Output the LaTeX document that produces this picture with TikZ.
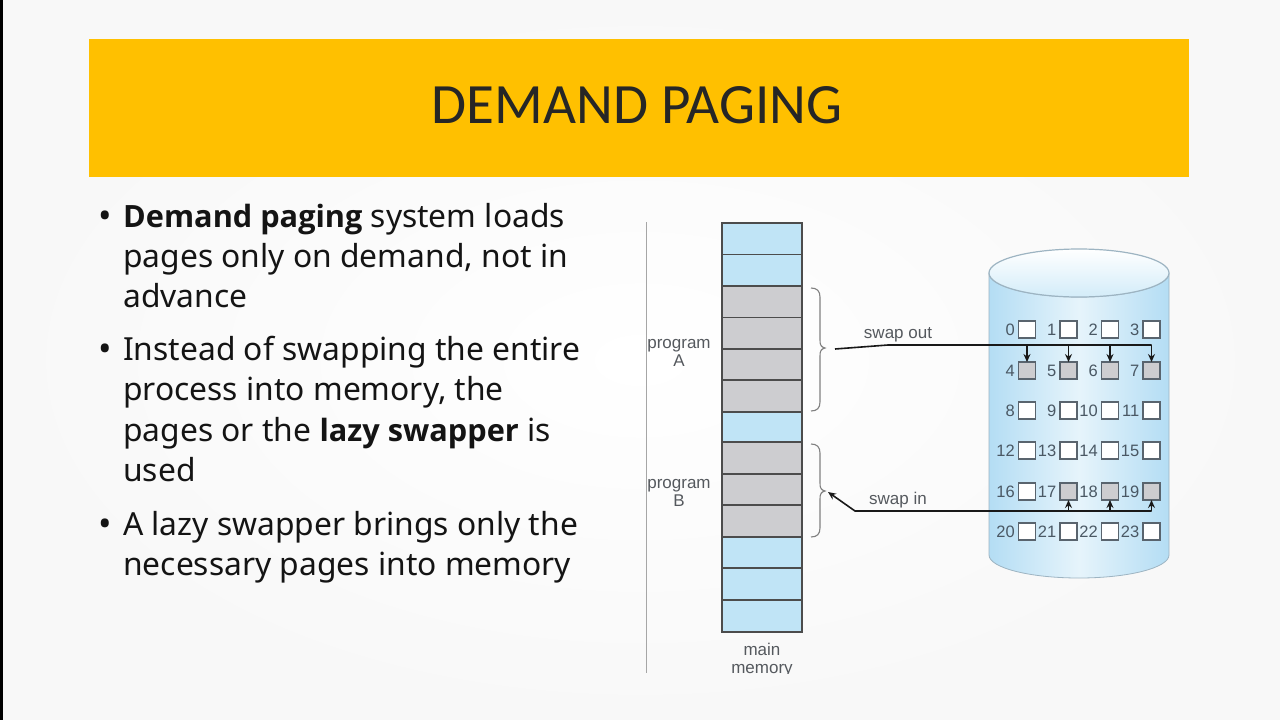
\documentclass[tikz,border=0pt]{standalone}
\usepackage{fontspec}
\setmainfont{Noto Sans}
\newfontfamily\boldbody{Open Sans}
\newfontfamily\titlefont{Carlito}
\newfontfamily\figfont{Liberation Sans}
\usetikzlibrary{arrows.meta,calc}
\definecolor{banner}{HTML}{FFC000}
\definecolor{memblue}{HTML}{C0E4F6}
\definecolor{memgray}{HTML}{CDCDD0}
\definecolor{figtext}{HTML}{55595E}
\definecolor{numtext}{HTML}{4A5864}
\definecolor{slotline}{HTML}{59646E}
\definecolor{cylline}{HTML}{9DB4C2}
\definecolor{cyledge}{HTML}{B4DDF4}
\definecolor{cylmid}{HTML}{E6F4FB}
\definecolor{pagebg}{HTML}{F8F8F8}
\newcommand{\boldrun}[1]{{\boldbody\fontsize{30.7}{30.7}\selectfont\bfseries #1}}
\tikzset{
  bodyline/.style={anchor=base west,inner sep=0pt,font=\fontsize{31.8}{31.8}\selectfont,text=black!92},
  bulletmark/.style={anchor=base,inner sep=0pt,font=\fontsize{36}{36}\selectfont,text=black!92},
  figlabel/.style={inner sep=0pt,align=center,text=figtext,font=\figfont\fontsize{17}{18}\selectfont},
  memcell/.style={draw=black!70,line width=1.2pt},
  slot/.style={draw=slotline,line width=1.2pt,fill=white,minimum size=17pt,inner sep=0pt,outer sep=0pt},
  slotgray/.style={slot,fill=memgray},
  slotnum/.style={anchor=base east,inner sep=0pt,text=numtext,font=\figfont\fontsize{16.5}{17}\selectfont},
  wire/.style={draw=black!90,line width=1.6pt},
  wiretip/.style={wire,-{Stealth[length=8pt,width=7pt]}},
  bracket/.style={draw=black!50,line width=1.1pt}
}
\begin{document}
\begin{tikzpicture}[x=1pt,y=-1pt]
\useasboundingbox (0,0) rectangle (1280,720);
\shade[inner color=white,outer color=pagebg] (0,0) rectangle (1280,720);
\fill[black] (0,0) rectangle (2.5,720);
% banner
\fill[banner] (89,39) rectangle (1189,177);
\node[inner sep=0pt,font=\titlefont\fontsize{57}{57}\selectfont,text=black!85] (title) at (637,105) {DEMAND PAGING};
% bullets
\node[bulletmark] (b1) at (105,228) {•};
\node[bodyline] (l1) at (123,227) {\boldrun{Demand paging} system loads};
\node[bodyline] (l2) at (123,267) {pages only on demand, not in};
\node[bodyline] (l3) at (123,307) {advance};
\node[bulletmark] (b2) at (105,361) {•};
\node[bodyline] (l4) at (123,360) {Instead of swapping the entire};
\node[bodyline] (l5) at (123,400) {process into memory, the};
\node[bodyline] (l6) at (123,441) {pages or the \boldrun{lazy swapper} is};
\node[bodyline] (l7) at (123,481) {used};
\node[bulletmark] (b3) at (105,536) {•};
\node[bodyline] (l8) at (123,535) {A lazy swapper brings only the};
\node[bodyline] (l9) at (123,575) {necessary pages into memory};
% axis line
\draw[black!35,line width=1.6pt] (646.5,222) -- (646.5,673);
% memory
\foreach \t/\b/\c in {223/254.5/memblue,254.5/286/memblue,286/317.5/memgray,317.5/349/memgray,349/380/memgray,380/412/memgray,412/442/memblue,442/474/memgray,474/505/memgray,505/537/memgray,537/568/memblue,568/600/memblue,600/632/memblue}{
  \draw[memcell,fill=\c] (722,\t) rectangle (802,\b);
}
% braces
\draw[bracket] (811,288) .. controls (817,288) and (820,291) .. (820,297) -- (820,340) .. controls (820,345) and (821,347) .. (825,348) .. controls (821,349) and (820,351) .. (820,356) -- (820,402) .. controls (820,408) and (817,411) .. (811,411);
\draw[bracket] (811,444) .. controls (817,444) and (820,447) .. (820,453) -- (820,483) .. controls (820,488) and (821,490) .. (825,491) .. controls (821,492) and (820,494) .. (820,499) -- (820,528) .. controls (820,534) and (817,537) .. (811,537);
% memory labels
\node[figlabel] (pa) at (679,353) {program\\A};
\node[figlabel] (pb) at (679,493) {program\\B};
\begin{scope}
\clip (700,630) rectangle (830,673);
\node[figlabel] (mm) at (762,660) {main\\memory};
\end{scope}
% cylinder
\path[left color=cyledge,right color=cyledge,middle color=cylmid,draw=cylline,line width=0.8pt]
  (989,273) -- (989,555) arc[start angle=180,end angle=0,x radius=90,y radius=23] -- (1169,273) arc[start angle=0,end angle=180,x radius=90,y radius=24] -- cycle;
\path[top color=white,bottom color=memblue!70!white,draw=cylline,line width=1.2pt] (1079,273) ellipse[x radius=90,y radius=24];
% slots
\foreach \n/\x/\y/\s in {
0/1027/329.5/slot,1/1068.5/329.5/slot,2/1110/329.5/slot,3/1151.5/329.5/slot,
4/1027/370.5/slotgray,5/1068.5/370.5/slotgray,6/1110/370.5/slotgray,7/1151.5/370.5/slotgray,
8/1027/410.5/slot,9/1068.5/410.5/slot,10/1110/410.5/slot,11/1151.5/410.5/slot,
12/1027/450.5/slot,13/1068.5/450.5/slot,14/1110/450.5/slot,15/1151.5/450.5/slot,
16/1027/491.5/slot,17/1068.5/491.5/slotgray,18/1110/491.5/slotgray,19/1151.5/491.5/slotgray,
20/1027/531.5/slot,21/1068.5/531.5/slot,22/1110/531.5/slot,23/1151.5/531.5/slot}{
  \node[\s] (s\n) at (\x,\y) {};
  \node[slotnum] (n\n) at ($(s\n.west)+(-3.5,6)$) {\n};
}
% swap out
\coordinate (outstart) at (835,349);
\coordinate (outbend) at (888,345);
\coordinate (outend) at (s7.north |- outbend);
\draw[wire] (outstart) -- (outbend) -- (outend);
\foreach \n in {4,5,6,7}{
  \draw[wiretip] (s\n.north |- outbend) -- (s\n.north);
}
\node[figlabel] (so) at (898,335) {swap out};
% swap in
\coordinate (inbend) at (855,511);
\coordinate (intip) at (828,492);
\coordinate (inend) at (s19.south |- inbend);
\draw[wiretip] (inend) -- (inbend) -- (intip);
\foreach \n in {17,18,19}{
  \draw[wiretip] (s\n.south |- inbend) -- (s\n.south);
}
\node[figlabel] (si) at (898,500) {swap in};
\end{tikzpicture}
\end{document}
